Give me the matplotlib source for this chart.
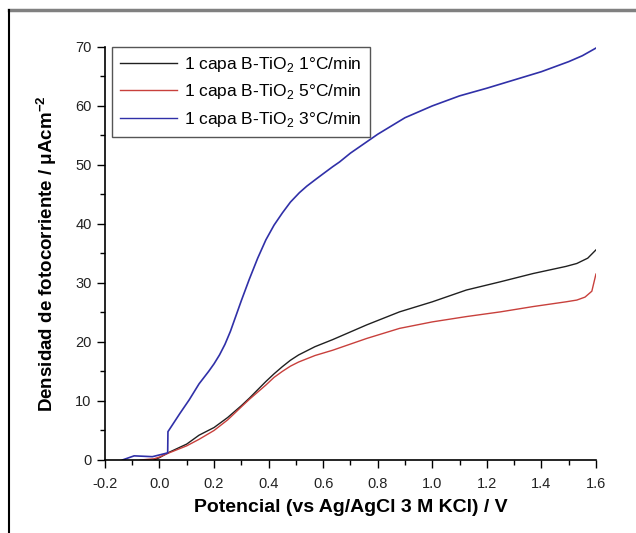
import matplotlib.pyplot as plt
import matplotlib.lines as mlines
from matplotlib.ticker import MultipleLocator

plt.rcParams['font.family'] = ['Liberation Sans', 'DejaVu Sans']
plt.rcParams['mathtext.fontset'] = 'custom'
plt.rcParams['mathtext.rm'] = 'Liberation Sans'
plt.rcParams['mathtext.bf'] = 'Liberation Sans:bold'

# datos
x_1c = [-0.02, 0.0, 0.035, 0.1, 0.145, 0.2, 0.25, 0.3, 0.33, 0.36, 0.39, 0.42, 0.45, 0.48,
        0.51, 0.57, 0.635, 0.7, 0.76, 0.88, 1.0, 1.125, 1.25, 1.37, 1.49, 1.53, 1.57, 1.6]
y_1c = [0.0, 0.4, 1.3, 2.7, 4.2, 5.5, 7.2, 9.2, 10.5, 11.9, 13.3, 14.6, 15.8, 16.9,
        17.8, 19.2, 20.4, 21.7, 22.9, 25.1, 26.8, 28.8, 30.2, 31.6, 32.8, 33.3, 34.2, 35.6]

x_5c = [-0.07, -0.02, 0.0, 0.035, 0.1, 0.145, 0.2, 0.25, 0.3, 0.33, 0.36, 0.39, 0.42, 0.45,
        0.48, 0.51, 0.57, 0.635, 0.76, 0.88, 1.0, 1.125, 1.25, 1.37, 1.49, 1.53, 1.56,
        1.585, 1.6]
y_5c = [0.0, 0.2, 0.5, 1.2, 2.4, 3.5, 5.0, 6.8, 9.0, 10.3, 11.5, 12.7, 14.0, 15.0,
        15.9, 16.6, 17.7, 18.6, 20.6, 22.3, 23.4, 24.3, 25.1, 26.0, 26.8, 27.1, 27.6,
        28.6, 31.5]

x_3c = [-0.136, -0.093, -0.026, 0.03, 0.031, 0.041, 0.075, 0.109, 0.145, 0.18, 0.2,
        0.22, 0.24, 0.26, 0.28, 0.3, 0.329, 0.36, 0.39, 0.42, 0.451, 0.48, 0.513, 0.54,
        0.574, 0.6, 0.635, 0.66, 0.7, 0.75, 0.8, 0.85, 0.9, 0.95, 1.0, 1.1, 1.2, 1.3,
        1.4, 1.5, 1.55, 1.6]
y_3c = [0.0, 0.7, 0.56, 1.2, 4.8, 5.5, 7.9, 10.2, 12.9, 15.0, 16.3,
        17.8, 19.6, 21.8, 24.4, 27.0, 30.6, 34.2, 37.3, 39.8, 41.9, 43.7, 45.3, 46.4,
        47.6, 48.5, 49.7, 50.5, 52.0, 53.6, 55.2, 56.6, 58.0, 59.0, 60.0, 61.7, 63.0, 64.4,
        65.8, 67.5, 68.5, 69.8]

etiquetas = [r'1 capa B-TiO$_2$ 1°C/min',
             r'1 capa B-TiO$_2$ 5°C/min',
             r'1 capa B-TiO$_2$ 3°C/min']
colores = ['#202020', '#c8403c', '#3030a8']

fig = plt.figure(figsize=(6.36, 5.33), dpi=100)
ax = fig.add_axes([0.165, 0.137, 0.772, 0.775])

ax.plot(x_1c, y_1c, color=colores[0], lw=1.0)
ax.plot(x_5c, y_5c, color=colores[1], lw=1.0)
ax.plot(x_3c, y_3c, color=colores[2], lw=1.2)

ax.set_xlim(-0.2, 1.6)
ax.set_ylim(0, 70)
ax.xaxis.set_major_locator(MultipleLocator(0.2))
ax.xaxis.set_minor_locator(MultipleLocator(0.1))
ax.yaxis.set_major_locator(MultipleLocator(10))
ax.yaxis.set_minor_locator(MultipleLocator(5))
ax.xaxis.set_major_formatter(plt.FuncFormatter(lambda v, p: '%.1f' % v))
ax.tick_params(which='major', direction='out', length=6, width=1, labelsize=10.5,
               labelcolor='#222222')
ax.tick_params(axis='x', which='major', pad=6)
ax.tick_params(which='minor', direction='out', length=3.5, width=1)

for s in ['top', 'right']:
    ax.spines[s].set_visible(False)
for s in ['left', 'bottom']:
    ax.spines[s].set_linewidth(1.2)

ax.set_xlabel('Potencial (vs Ag/AgCl 3 M KCl) / V', fontsize=14, fontweight='bold', labelpad=6)
ax.set_ylabel(r'Densidad de fotocorriente / μAcm$^{\mathbf{-2}}$', fontsize=13.5,
              fontweight='bold', labelpad=12)

handles = [mlines.Line2D([], [], color=c, lw=1.0) for c in colores]
leg = ax.legend(handles, etiquetas, loc='upper left', bbox_to_anchor=(0.015, 1.0),
                fontsize=12.5, fancybox=False, edgecolor='#555555', framealpha=1,
                handlelength=3.3, handletextpad=0.4, labelspacing=0.5,
                borderpad=0.45, borderaxespad=0.0)
leg.get_frame().set_linewidth(1.0)

# marco de la figura
fig.add_artist(mlines.Line2D([9/636, 1.0], [1 - 10/533, 1 - 10/533], color='#808080', lw=2.5))
fig.add_artist(mlines.Line2D([9/636, 9/636], [0.0, 1 - 10/533], color='black', lw=1.5))

fig.savefig('out.png', dpi=100)
